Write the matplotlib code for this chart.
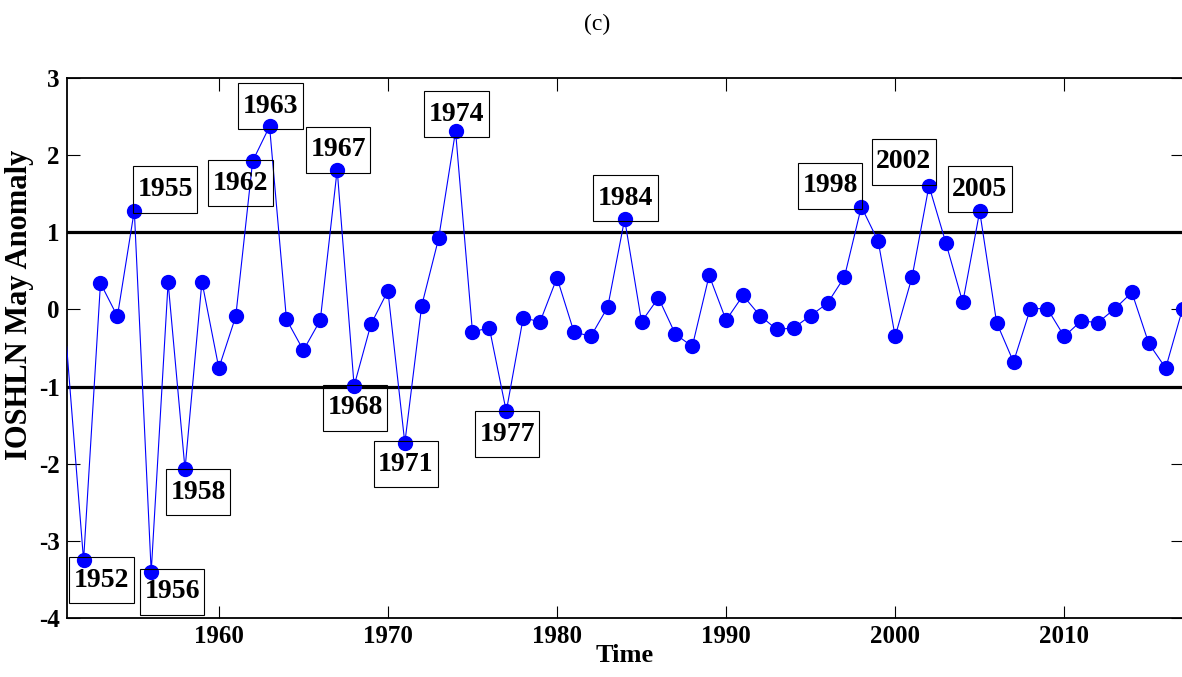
import matplotlib
matplotlib.use('Agg')
import matplotlib.pyplot as plt
from matplotlib.path import Path
import numpy as np

plt.rcParams['font.family'] = ['Liberation Serif', 'DejaVu Serif']
plt.rcParams['axes.unicode_minus'] = False

# IOSHLN May anomaly (1951 only enters as the line start)
years = np.arange(1951, 2018)
values = [-0.48,
          -3.25, 0.34, -0.09, 1.28, -3.40, 0.35, -2.07, 0.36, -0.76,   # 1952-1960
          -0.09, 1.92, 2.37, -0.13, -0.53, -0.14, 1.81, -0.99, -0.19,  # 1961-1969
          0.24, -1.73, 0.05, 0.92, 2.31, -0.29, -0.24, -1.32, -0.11,   # 1970-1978
          -0.16, 0.41, -0.29, -0.35, 0.03, 1.17, -0.16, 0.15, -0.32,   # 1979-1987
          -0.48, 0.44, -0.14, 0.18, -0.08, -0.26, -0.24, -0.08, 0.08,  # 1988-1996
          0.42, 1.33, 0.88, -0.35, 0.42, 1.60, 0.86, 0.09, 1.27,       # 1997-2005
          -0.17, -0.68, 0.01, 0.01, -0.35, -0.15, -0.17, 0.01, 0.22,   # 2006-2014
          -0.44, -0.76, 0.01]                                          # 2015-2017

labelled_years = [1952, 1955, 1956, 1958, 1962, 1963, 1967, 1968, 1971,
                  1974, 1977, 1984, 1998, 2002, 2005]
# box centre offsets from the point, in pixels (right, down)
label_offsets = {1952: (18, 20), 1955: (31, -21), 1956: (21, 20), 1958: (13, 23),
                 1962: (-12, 22), 1963: (1, -20), 1967: (1, -20), 1968: (1, 22),
                 1971: (1, 21), 1974: (1, -17), 1977: (1, 23), 1984: (1, -21),
                 1998: (-31, -21), 2002: (-25, -24), 2005: (0, -22)}


def tall_box(x0, y0, width, height, mutation_size):
    # square box with more padding top/bottom than left/right
    px, py = 0.16 * mutation_size, 0.38 * mutation_size
    x0, x1 = x0 - px, x0 + width + px
    y0, y1 = y0 - py, y0 + height + py
    return Path([(x0, y0), (x1, y0), (x1, y1), (x0, y1), (x0, y0)], closed=True)


fig = plt.figure(figsize=(11.82, 6.77), dpi=100)
ax = fig.add_axes([0.0564, 0.0867, 0.9441, 0.7985])

ax.plot(years, values, '-', color='blue', lw=0.8, marker='o', ms=10,
        markevery=list(range(1, len(years))), mfc='blue', mec='blue', zorder=3)
ax.axhline(1, color='black', lw=2.3, zorder=2)
ax.axhline(-1, color='black', lw=2.3, zorder=2)

for yr in labelled_years:
    v = values[list(years).index(yr)]
    dx, dy = label_offsets[yr]
    ax.annotate(str(yr), (yr, v), xytext=(dx * 0.72, -dy * 0.72),
                textcoords='offset points', ha='center', va='center',
                fontsize=20, fontweight='bold',
                bbox=dict(boxstyle=tall_box, fc='none', ec='black', lw=0.8),
                zorder=4, annotation_clip=False)

ax.set_xlim(1951, 2017)
ax.set_ylim(-4, 3)
ax.set_xticks([1960, 1970, 1980, 1990, 2000, 2010])
ax.set_yticks(range(-4, 4))
ax.tick_params(direction='in', length=9, width=0.8, top=True, right=True,
               labelsize=18, pad=5)
for lab in ax.get_xticklabels() + ax.get_yticklabels():
    lab.set_fontweight('bold')
for sp in ax.spines.values():
    sp.set_linewidth(1.3)

ax.set_xlabel('Time', fontsize=19, fontweight='bold')
ax.xaxis.set_label_coords(0.5, -0.048)
ax.set_ylabel('IOSHLN May Anomaly', fontsize=22, fontweight='bold')
ax.yaxis.set_label_coords(-0.0293, 0.58)

fig.text(597 / 1182, 1 - 24 / 677, '(c)', fontsize=17, ha='center', va='center')

plt.savefig('out.png', dpi=100)
